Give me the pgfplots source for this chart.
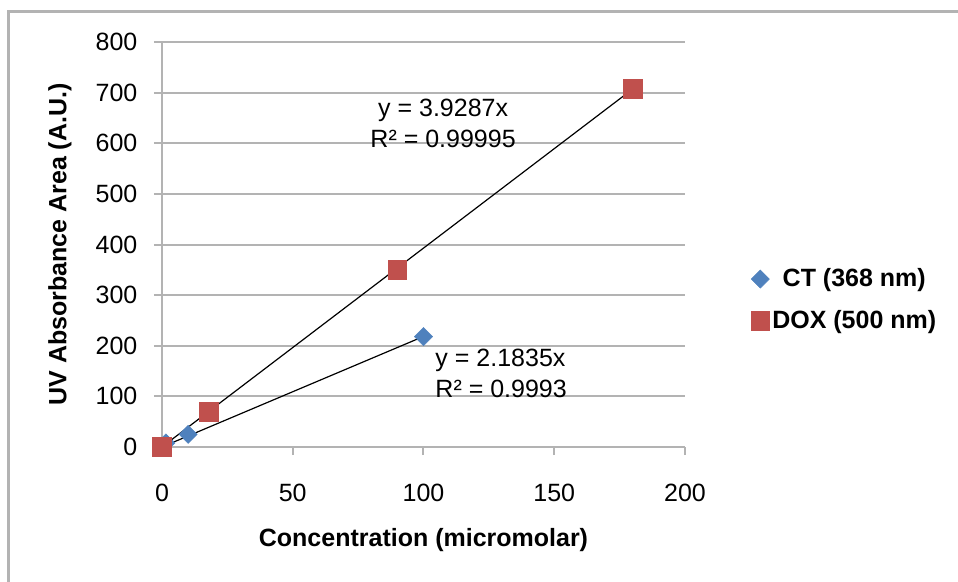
\documentclass[border=0pt]{standalone}
\usepackage{pgfplots}
\pgfplotsset{compat=1.18}
\usepackage{fontspec}
\setmainfont{Liberation Sans}
\definecolor{ctblue}{RGB}{79,129,189}
\definecolor{doxred}{RGB}{192,80,77}
\definecolor{gridgray}{RGB}{179,179,179}
\begin{document}
\fontsize{18.75}{23.25}\selectfont
\begin{tikzpicture}
\begin{axis}[
  scale only axis, width=392.25pt, height=303.75pt,
  xmin=0, xmax=200, ymin=0, ymax=800,
  xtick={0,50,...,200}, ytick={0,100,...,800},
  axis x line=bottom, axis y line=left,
  axis line style={-, gridgray, line width=1.5pt},
  ymajorgrids, grid style={gridgray, line width=1.5pt},
  tick style={gridgray, line width=1.5pt}, tick align=outside,
  major tick length=6pt,
  tick label style={font=\fontsize{18.75}{22}\selectfont},
  /pgf/number format/assume math mode=true,
  xticklabel style={yshift=-15pt},
  yticklabel style={xshift=-6pt},
  xlabel={\textbf{Concentration (micromolar)}},
  ylabel={\textbf{UV Absorbance Area (A.U.)}},
  xlabel style={at={(axis description cs:0.5,-0.2296)}, anchor=center},
  ylabel style={at={(axis description cs:-0.195,0.5)}, anchor=center},
  clip=false,
  legend style={at={(1.118,0.363)}, anchor=west, draw=none, fill=none,
    font=\bfseries\fontsize{18.75}{22}\selectfont, row sep=11pt,
    nodes={inner xsep=2pt}},
  legend image code/.code={\draw[#1] plot coordinates {(0pt,0pt)};},
]
\addplot[only marks, mark=square*, mark size=4.8pt, color=ctblue,
  mark options={rotate=45, fill=ctblue, draw=ctblue}]
  coordinates {(1.5,8) (10,25) (100,218)};
\addlegendentry{CT (368 nm)}
\addplot[only marks, mark=square*, mark size=7pt, color=doxred,
  mark options={fill=doxred, draw=doxred}]
  coordinates {(0,0) (18,70) (90,350) (180,708)};
\addlegendentry{DOX (500 nm)}
\addplot[black, line width=0.9pt, forget plot] coordinates {(0,0) (180,707.17)};
\addplot[black, line width=0.9pt, forget plot] coordinates {(0,0) (100,218.35)};
\node[align=center] at (axis cs:107.5,640) {y = 3.9287x\\R² = 0.99995};
\node[align=left, anchor=west] at (axis cs:101.3,146) {y = 2.1835x\\R² = 0.9993};
\end{axis}
\begin{scope}[x=0.75pt, y=0.75pt]
\useasboundingbox (-162,-135) rectangle (796,447);
\draw[gridgray, line width=2.25pt] (-153,-140) -- (-153,435) -- (800,435);
\end{scope}
\end{tikzpicture}
\end{document}
